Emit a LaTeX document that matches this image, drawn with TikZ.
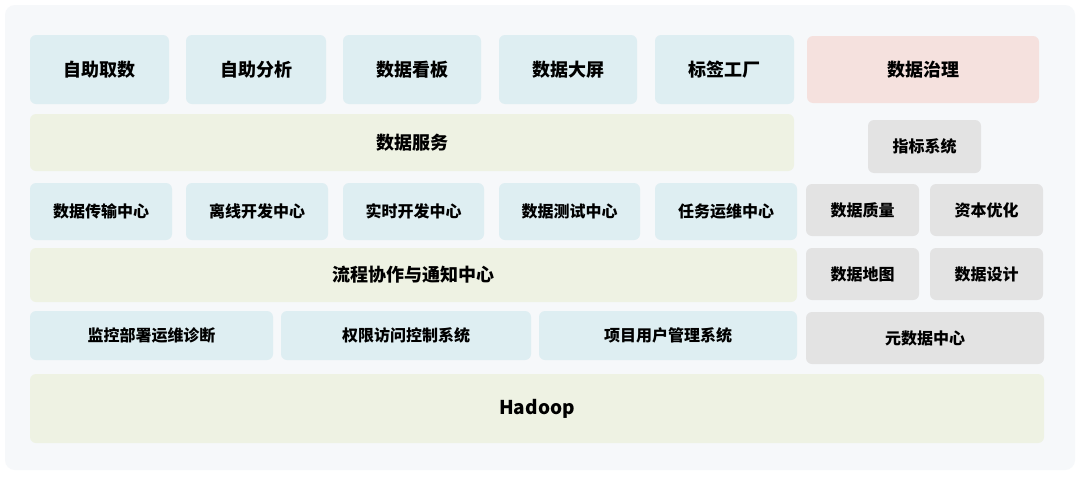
\documentclass[tikz,border=0pt]{standalone}
\usepackage{fontspec}
\setmainfont{Noto Sans CJK SC}
\definecolor{bgc}{HTML}{F6F8FA}
\definecolor{bl}{HTML}{DEEEF2}
\definecolor{gr}{HTML}{EEF2E3}
\definecolor{pk}{HTML}{F5E1DE}
\definecolor{gy}{HTML}{E3E3E3}
\tikzset{bx/.style={rounded corners=6pt, text=black, font=\bfseries}}
\newcommand{\bbox}[7]{\fill[#6,rounded corners=6pt] (#1,#2) rectangle (#3,#4); \node[bx,font=\bfseries#7] (n#1#2) at ({(#1+#3)/2},{(#2+#4)/2}) {#5};}
\begin{document}
\begin{tikzpicture}[x=1pt,y=-1pt]
\useasboundingbox (0,0) rectangle (1080,477);
\fill[white] (0,0) rectangle (1080,477);
\fill[bgc,rounded corners=10pt] (5,5) rectangle (1075,470);
\bbox{30}{35}{169}{104}{自助取数}{bl}{\fontsize{18}{20}\selectfont}
\bbox{186}{35}{326}{104}{自助分析}{bl}{\fontsize{18}{20}\selectfont}
\bbox{343}{35}{481}{104}{数据看板}{bl}{\fontsize{18}{20}\selectfont}
\bbox{499}{35}{637}{104}{数据大屏}{bl}{\fontsize{18}{20}\selectfont}
\bbox{655}{35}{794}{104}{标签工厂}{bl}{\fontsize{18}{20}\selectfont}
\bbox{807}{36}{1039}{103}{数据治理}{pk}{\fontsize{18}{20}\selectfont}
\bbox{30}{114}{794}{171}{数据服务}{gr}{\fontsize{18}{20}\selectfont}
\bbox{868}{120}{981}{173}{指标系统}{gy}{\fontsize{16}{18}\selectfont}
\bbox{30}{183}{172}{240}{数据传输中心}{bl}{\fontsize{16}{18}\selectfont}
\bbox{186}{183}{328}{240}{离线开发中心}{bl}{\fontsize{16}{18}\selectfont}
\bbox{343}{183}{484}{240}{实时开发中心}{bl}{\fontsize{16}{18}\selectfont}
\bbox{499}{183}{640}{240}{数据测试中心}{bl}{\fontsize{16}{18}\selectfont}
\bbox{655}{183}{797}{240}{任务运维中心}{bl}{\fontsize{16}{18}\selectfont}
\bbox{806}{184}{919}{236}{数据质量}{gy}{\fontsize{16}{18}\selectfont}
\bbox{930}{184}{1043}{236}{资本优化}{gy}{\fontsize{16}{18}\selectfont}
\bbox{30}{248}{797}{302}{流程协作与通知中心}{gr}{\fontsize{18}{20}\selectfont}
\bbox{806}{248}{919}{300}{数据地图}{gy}{\fontsize{16}{18}\selectfont}
\bbox{930}{248}{1043}{300}{数据设计}{gy}{\fontsize{16}{18}\selectfont}
\bbox{30}{311}{273}{360}{监控部署运维诊断}{bl}{\fontsize{16}{18}\selectfont}
\bbox{281}{311}{531}{360}{权限访问控制系统}{bl}{\fontsize{16}{18}\selectfont}
\bbox{539}{311}{797}{360}{项目用户管理系统}{bl}{\fontsize{16}{18}\selectfont}
\bbox{806}{312}{1044}{364}{元数据中心}{gy}{\fontsize{16}{18}\selectfont}
\bbox{30}{374}{1044}{443}{Hadoop}{gr}{\fontsize{19}{21}\selectfont}
\end{tikzpicture}
\end{document}
